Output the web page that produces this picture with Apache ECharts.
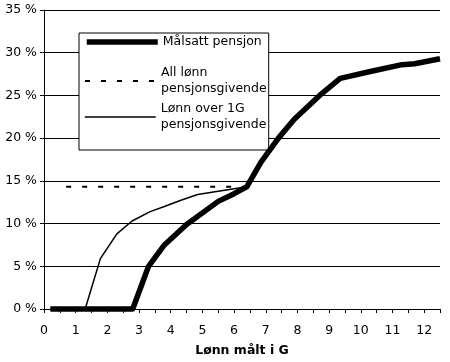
<!DOCTYPE html>
<html><head><meta charset="utf-8">
<script src="https://cdn.jsdelivr.net/npm/echarts@6/dist/echarts.min.js"></script>
<style>html,body{margin:0;padding:0;background:#fff}#c{width:450px;height:362px}</style>
</head><body><div id="c"></div>
<script>
// ---- data ----
const seriesNames = ['Målsatt pensjon', 'All lønn pensjonsgivende', 'Lønn over 1G pensjonsgivende'];

// Målsatt pensjon (thick)
const xMaalsatt = [0.2, 2.8, 3.3, 3.8, 4.5, 5.5, 6.0, 6.4, 6.85, 7.4, 7.9, 8.7, 9.35, 10.3, 11.3, 11.7, 12.5];
const yMaalsatt = [0, 0, 5.0, 7.5, 9.9, 12.6, 13.5, 14.3, 17.2, 20.0, 22.2, 25.0, 27.0, 27.8, 28.6, 28.7, 29.3];

// All lønn pensjonsgivende (dashed)
const xAllLonn = [0.7, 6.4];
const yAllLonn = [14.3, 14.3];

// Lønn over 1G pensjonsgivende (thin)
const xOver1G = [0.2, 1.3, 1.78, 2.3, 2.78, 3.35, 3.8, 4.3, 4.85, 5.7, 6.4];
const yOver1G = [0, 0, 5.9, 8.8, 10.3, 11.4, 12.0, 12.7, 13.4, 13.9, 14.3];

const xTickLabels = [0, 1, 2, 3, 4, 5, 6, 7, 8, 9, 10, 11, 12];
const yTickLabels = ['0 %', '5 %', '10 %', '15 %', '20 %', '25 %', '30 %', '35 %'];
const xAxisTitle = 'Lønn målt i G';

// ---- chart ----
const pairs = (xs, ys) => xs.map((x, i) => [x, ys[i]]);
const font = 'DejaVu Sans';
const fs = 12.5;

const legendBase = {
  orient: 'vertical',
  itemWidth: 71,
  itemHeight: 8,
  itemGap: 0,
  textStyle: { fontFamily: font, fontSize: fs, color: '#000', lineHeight: 16 },
  itemStyle: { opacity: 0 },
  formatter: n => n.replace(' pensjonsgivende', '\npensjonsgivende'),
  selectedMode: false
};

const chart = echarts.init(document.getElementById('c'), null, { renderer: 'canvas' });
chart.setOption({
  animation: false,
  backgroundColor: '#fff',
  grid: { left: 44, right: 10, top: 10, bottom: 50, containLabel: false },
  legend: [
    Object.assign({}, legendBase, {
      data: [seriesNames[0]], left: 79, top: 33, padding: [1, 7, 100, 5],
      borderColor: '#000', borderWidth: 1, backgroundColor: '#fff', z: 3,
      lineStyle: { width: 5.5 }
    }),
    Object.assign({}, legendBase, {
      data: [seriesNames[1]], left: 84, top: 57, padding: 0, z: 4,
      lineStyle: { width: 2 },
      textStyle: Object.assign({}, legendBase.textStyle, { padding: [16, 0, 0, 0] })
    }),
    Object.assign({}, legendBase, {
      data: [seriesNames[2]], left: 84, top: 93, padding: 0, z: 4,
      lineStyle: { width: 1.5 },
      textStyle: Object.assign({}, legendBase.textStyle, { padding: [16, 0, 0, 0] })
    })
  ],
  xAxis: {
    type: 'value', min: 0, max: 12.5, interval: 0.5,
    name: xAxisTitle, nameLocation: 'middle', nameGap: 35,
    nameTextStyle: { fontFamily: font, fontSize: fs, fontWeight: 'bold', color: '#000' },
    axisLine: { show: true, onZero: false, lineStyle: { color: '#000', width: 1 } },
    axisTick: { show: true, length: 4, lineStyle: { color: '#000' } },
    axisLabel: {
      fontFamily: font, fontSize: fs, color: '#000', margin: 15,
      showMinLabel: true, showMaxLabel: true,
      formatter: v => (xTickLabels.indexOf(v) >= 0 ? String(v) : '')
    },
    splitLine: { show: false }
  },
  yAxis: {
    type: 'value', min: 0, max: 35, interval: 5,
    axisLine: { show: true, lineStyle: { color: '#000', width: 1 } },
    axisTick: { show: true, length: 4, lineStyle: { color: '#000' } },
    axisLabel: {
      fontFamily: font, fontSize: fs, color: '#000', margin: 7,
      formatter: v => yTickLabels[Math.round(v / 5)]
    },
    splitLine: { show: true, lineStyle: { color: '#000', width: 1 } }
  },
  series: [
    {
      name: seriesNames[1], type: 'line', data: pairs(xAllLonn, yAllLonn),
      symbol: 'none', clip: false, z: 2, color: '#000',
      lineStyle: { color: '#000', width: 2, type: [5, 11] }
    },
    {
      name: seriesNames[2], type: 'line', data: pairs(xOver1G, yOver1G),
      symbol: 'none', clip: false, z: 2, color: '#000',
      lineStyle: { color: '#000', width: 1.5 }
    },
    {
      name: seriesNames[0], type: 'line', data: pairs(xMaalsatt, yMaalsatt),
      symbol: 'none', clip: false, z: 3, color: '#000',
      lineStyle: { color: '#000', width: 5.5, join: 'round' }
    }
  ]
});
</script>
</body></html>
